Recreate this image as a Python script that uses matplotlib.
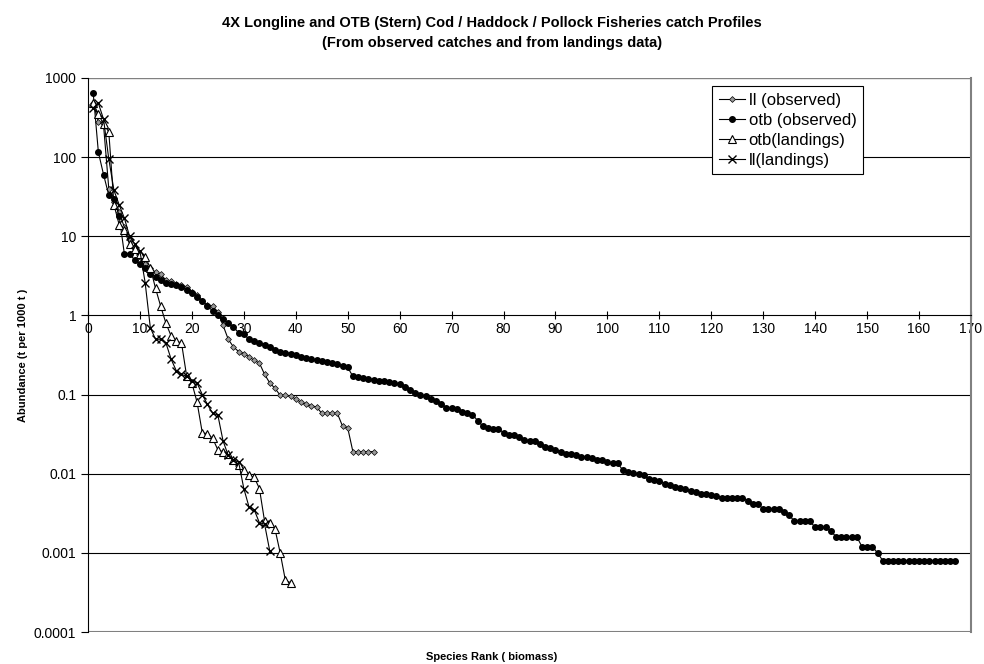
import numpy as np
import matplotlib.pyplot as plt

otb_obs = [650, 115, 60, 33, 30, 18, 6, 6, 5, 4.5, 4, 3.3, 3.1, 2.8, 2.6, 2.5, 2.4, 2.3, 2.1, 1.9,
           1.7, 1.5, 1.3, 1.15, 1.0, 0.9, 0.8, 0.72, 0.6, 0.58, 0.5, 0.47, 0.45, 0.42, 0.4, 0.37, 0.35, 0.34, 0.33, 0.32,
           0.3, 0.29, 0.28, 0.27, 0.265, 0.26, 0.25, 0.24, 0.23, 0.22, 0.17, 0.165, 0.16, 0.158, 0.155, 0.15, 0.148, 0.145, 0.14, 0.135,
           0.125, 0.115, 0.105, 0.1, 0.095, 0.087, 0.082, 0.077, 0.068, 0.067, 0.066, 0.061, 0.058, 0.056, 0.047, 0.04, 0.038, 0.037, 0.037, 0.033,
           0.031, 0.031, 0.029, 0.027, 0.026, 0.026, 0.024, 0.022, 0.021, 0.02, 0.019, 0.018, 0.0175, 0.017, 0.0165, 0.0165, 0.016, 0.015, 0.015, 0.014,
           0.0135, 0.0135, 0.011, 0.0105, 0.0102, 0.01, 0.0095, 0.0085, 0.0083, 0.0082, 0.0075, 0.0072, 0.0068, 0.0066, 0.0065, 0.006, 0.0058, 0.0056, 0.0055, 0.0054,
           0.0052, 0.005, 0.005, 0.005, 0.005, 0.005, 0.0045, 0.0041, 0.0041, 0.0036, 0.0036, 0.0036, 0.0036, 0.0033, 0.003, 0.0025, 0.0025, 0.0025,
           0.0025, 0.0021, 0.0021, 0.0021, 0.0019, 0.0016, 0.0016, 0.0016, 0.0016, 0.0016, 0.0012, 0.0012, 0.0012, 0.001, 0.0008, 0.0008, 0.0008, 0.0008,
           0.0008, 0.0008, 0.0008, 0.0008, 0.0008, 0.0008, 0.0008, 0.0008, 0.0008, 0.0008, 0.0008]

ll_obs = [480, 280, 250, 40, 27, 20, 13, 9, 7, 5.5, 4.5, 4, 3.5, 3.3, 2.8, 2.7, 2.5, 2.4, 2.3, 2.0,
          1.8, 1.5, 1.35, 1.3, 1.1, 0.75, 0.5, 0.4, 0.35, 0.33, 0.3, 0.27, 0.25, 0.18, 0.14, 0.12, 0.098, 0.098, 0.095, 0.088,
          0.08, 0.075, 0.072, 0.07, 0.058, 0.058, 0.058, 0.058, 0.04, 0.038, 0.019, 0.019, 0.019, 0.019, 0.019]

otb_land = [480, 350, 260, 210, 25, 14, 12, 8, 7, 6, 5.5, 4, 2.2, 1.3, 0.8, 0.55, 0.47, 0.45, 0.17, 0.14,
            0.08, 0.033, 0.032, 0.028, 0.02, 0.019, 0.018, 0.015, 0.013, 0.011, 0.0095, 0.009, 0.0065, 0.0025, 0.0024, 0.002, 0.001, 0.00045, 0.00042]

ll_land = [420, 480, 300, 95, 38, 25, 17, 10, 8, 6.5, 2.6, 0.7, 0.5, 0.5, 0.45, 0.28, 0.2, 0.18, 0.17, 0.15,
           0.14, 0.1, 0.075, 0.058, 0.055, 0.026, 0.017, 0.015, 0.014, 0.0065, 0.0038, 0.0035, 0.0024, 0.0023, 0.00105]

plt.rcParams['font.family'] = ['Liberation Sans', 'DejaVu Sans']

fig = plt.figure(figsize=(9.84, 6.64), dpi=100)
ax = fig.add_axes([88 / 984, 1 - 632 / 664, (971 - 88) / 984, (632 - 78) / 664])

ax.set_yscale('log')
ax.set_ylim(1e-4, 1000)
ax.set_xlim(0, 170)

for v in [1e-3, 1e-2, 1e-1, 10, 100]:
    ax.axhline(v, color='k', lw=0.8, zorder=0)
ax.axhline(1e-4, color='#808080', lw=1.5, zorder=0)
ax.axhline(1000, color='#808080', lw=1, zorder=0)

r = lambda s: np.arange(1, len(s) + 1)
ax.plot(r(ll_obs), ll_obs, '-', color='k', lw=0.8, marker='D', ms=3, mfc='#999999', mec='k', mew=0.5, label='ll (observed)')
ax.plot(r(otb_obs), otb_obs, '-', color='k', lw=0.8, marker='o', ms=4, mfc='k', mec='k', label='otb (observed)')
ax.plot(r(otb_land), otb_land, '-', color='k', lw=0.8, marker='^', ms=6, mfc='white', mec='k', mew=0.8, label='otb(landings)')
ax.plot(r(ll_land), ll_land, '-', color='k', lw=0.8, marker='x', ms=6, mec='k', mew=1, label='ll(landings)')

ax.spines['bottom'].set_position(('data', 1))
ax.spines['top'].set_visible(False)
ax.spines['right'].set_color('#808080')
ax.spines['right'].set_linewidth(1.5)
ax.set_xticks(np.arange(0, 171, 10))
ax.tick_params(axis='x', direction='inout', length=6, labelsize=10, pad=2)
ax.set_yticks([1e-4, 1e-3, 1e-2, 1e-1, 1, 10, 100, 1000])
ax.set_yticklabels(['0.0001', '0.001', '0.01', '0.1', '1', '10', '100', '1000'])
ax.yaxis.set_minor_locator(plt.NullLocator())
ax.tick_params(axis='y', direction='out', length=5, labelsize=10)

ax.set_ylabel('Abundance (t per 1000 t )', fontsize=8, fontweight='bold')
fig.text(0.5, 1 - 657 / 664, 'Species Rank ( biomass)', ha='center', va='center', fontsize=8, fontweight='bold')
fig.text(0.5, 1 - 33 / 664, '4X Longline and OTB (Stern) Cod / Haddock / Pollock Fisheries catch Profiles\n(From observed catches and from landings data)',
         ha='center', va='center', fontsize=10.5, fontweight='bold', linespacing=1.5)

lg = ax.legend(loc='upper left', bbox_to_anchor=(712 / 984, 1 - 86 / 664), bbox_transform=fig.transFigure,
               fontsize=12, fancybox=False, edgecolor='k', framealpha=1, borderaxespad=0,
               handlelength=1.6, handletextpad=0.2, labelspacing=0.3, borderpad=0.4)
lg.get_frame().set_linewidth(0.8)

fig.savefig('out.png', dpi=100)
